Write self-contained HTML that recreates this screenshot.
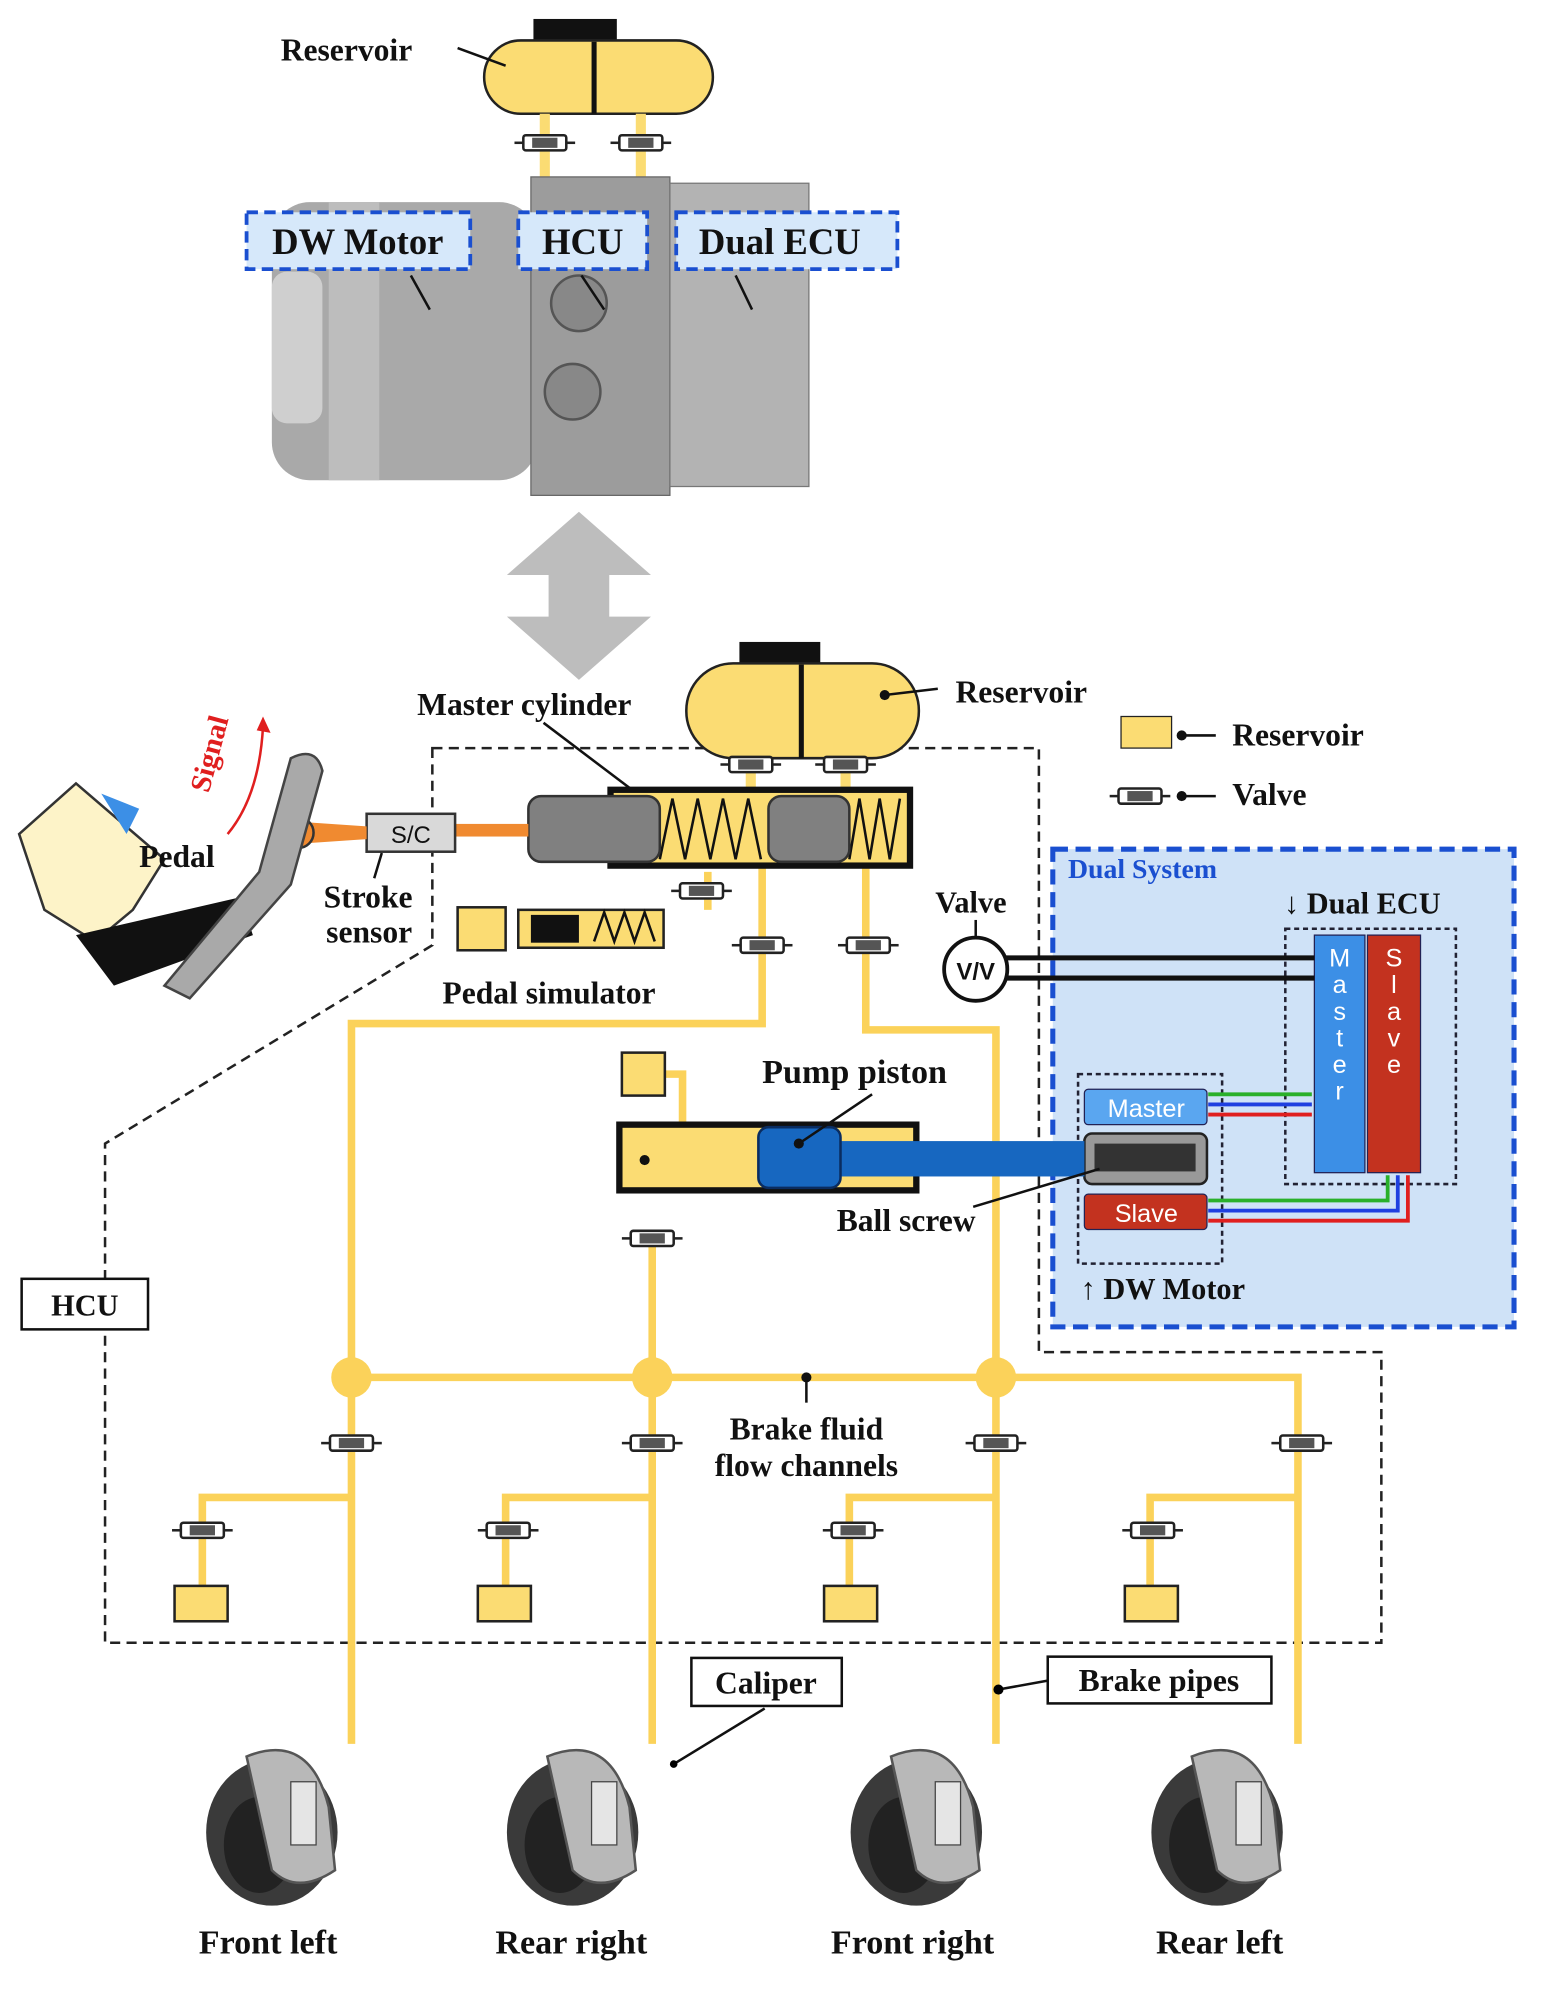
<!DOCTYPE html>
<html><head><meta charset="utf-8"><style>
html,body{margin:0;padding:0;background:#fff}
svg{display:block}
text{font-family:"Liberation Serif",serif;font-weight:bold;fill:#111}
.s{font-family:"Liberation Sans",sans-serif;font-weight:normal}
</style></head><body>
<svg width="1542" height="1989" viewBox="0 0 1220 1574" xmlns="http://www.w3.org/2000/svg">
<defs>
<g id="valve"><rect x="-17" y="-6" width="34" height="12" rx="2" fill="#fff" stroke="#222" stroke-width="2"/><rect x="-10" y="-4" width="20" height="8" fill="#555"/><line x1="-24" y1="0" x2="-17" y2="0" stroke="#222" stroke-width="2"/><line x1="17" y1="0" x2="24" y2="0" stroke="#222" stroke-width="2"/></g>
<g id="wheel"><ellipse cx="0" cy="10" rx="52" ry="58" fill="#3a3a3a"/><ellipse cx="-10" cy="20" rx="28" ry="38" fill="#222"/><path d="M-20,-50 Q30,-70 45,-10 L50,40 Q20,60 0,40 Z" fill="#b8b8b8" stroke="#555" stroke-width="2"/><rect x="15" y="-30" width="20" height="50" fill="#e5e5e5" stroke="#444"/></g>
</defs>
<!-- top device -->
<rect x="422" y="15" width="66" height="18" fill="#111"/>
<rect x="383" y="32" width="181" height="58" rx="29" fill="#fbdc73" stroke="#222" stroke-width="2"/>
<line x1="470" y1="33" x2="470" y2="90" stroke="#111" stroke-width="4"/>
<rect x="427" y="90" width="8" height="52" fill="#fbdc73"/><rect x="503" y="90" width="8" height="52" fill="#fbdc73"/>
<use href="#valve" x="431" y="113"/><use href="#valve" x="507" y="113"/>
<rect x="215" y="160" width="210" height="220" rx="30" fill="#a9a9a9"/>
<rect x="215" y="215" width="40" height="120" rx="12" fill="#cfcfcf"/>
<rect x="260" y="160" width="40" height="220" fill="#bdbdbd"/>
<rect x="420" y="140" width="110" height="252" fill="#9c9c9c" stroke="#666"/>
<circle cx="458" cy="240" r="22" fill="#888" stroke="#555" stroke-width="2"/><circle cx="453" cy="310" r="22" fill="#888" stroke="#555" stroke-width="2"/>
<rect x="530" y="145" width="110" height="240" fill="#b3b3b3" stroke="#777"/>
<rect x="195" y="168" width="177" height="45" fill="#d6e8fa" stroke="#1a4fd0" stroke-width="3" stroke-dasharray="9,5"/>
<text x="283" y="201" font-size="29" text-anchor="middle">DW Motor</text>
<rect x="410" y="168" width="102" height="45" fill="#d6e8fa" stroke="#1a4fd0" stroke-width="3" stroke-dasharray="9,5"/>
<text x="461" y="201" font-size="29" text-anchor="middle">HCU</text>
<rect x="535" y="168" width="175" height="45" fill="#d6e8fa" stroke="#1a4fd0" stroke-width="3" stroke-dasharray="9,5"/>
<text x="617" y="201" font-size="29" text-anchor="middle">Dual ECU</text>
<g stroke="#111" stroke-width="2"><line x1="325" y1="218" x2="340" y2="245"/><line x1="460" y1="218" x2="478" y2="245"/><line x1="582" y1="218" x2="595" y2="245"/><line x1="362" y1="38" x2="400" y2="52"/></g>
<text x="222" y="48" font-size="25">Reservoir</text>
<polygon points="458,405 515,455 482,455 482,488 515,488 458,538 401,488 434,488 434,455 401,455" fill="#bdbdbd"/>
<path d="M342,592 L822,592 L822,1070 L1093,1070 L1093,1300 L83,1300 L83,905 L342,748 Z" fill="none" stroke="#222" stroke-width="2" stroke-dasharray="8,5"/>
<rect x="833" y="672" width="365" height="378" fill="#cfe2f7" stroke="#1a4fd0" stroke-width="4" stroke-dasharray="12,6"/>
<text x="845" y="695" font-size="22" style="fill:#1a4fd0">Dual System</text>
<text x="1016" y="723" font-size="24">↓ Dual ECU</text>
<rect x="1017" y="735" width="135" height="202" fill="none" stroke="#223" stroke-width="2" stroke-dasharray="4,3"/>
<rect x="1040" y="740" width="40" height="188" fill="#3c8fe6" stroke="#225"/>
<rect x="1082" y="740" width="42" height="188" fill="#c3321f" stroke="#225"/>
<text class="s" x="1060" y="765" font-size="20" text-anchor="middle" style="fill:#fff"><tspan x="1060">M</tspan><tspan x="1060" dy="21">a</tspan><tspan x="1060" dy="21">s</tspan><tspan x="1060" dy="21">t</tspan><tspan x="1060" dy="21">e</tspan><tspan x="1060" dy="21">r</tspan></text>
<text class="s" x="1103" y="765" font-size="20" text-anchor="middle" style="fill:#fff"><tspan x="1103">S</tspan><tspan x="1103" dy="21">l</tspan><tspan x="1103" dy="21">a</tspan><tspan x="1103" dy="21">v</tspan><tspan x="1103" dy="21">e</tspan></text>
<rect x="853" y="850" width="114" height="150" fill="none" stroke="#223" stroke-width="2" stroke-dasharray="4,3"/>
<rect x="858" y="862" width="97" height="28" rx="3" fill="#5aa6f0" stroke="#225"/>
<text class="s" x="907" y="884" font-size="20" text-anchor="middle" style="fill:#fff">Master</text>
<rect x="858" y="945" width="97" height="28" rx="3" fill="#c3321f" stroke="#225"/>
<text class="s" x="907" y="967" font-size="20" text-anchor="middle" style="fill:#fff">Slave</text>
<rect x="858" y="897" width="97" height="40" rx="6" fill="#999" stroke="#222" stroke-width="2"/>
<rect x="866" y="905" width="80" height="22" fill="#333"/>
<g fill="none" stroke-width="3">
<path d="M956,866 L1038,866" stroke="#2ab02a"/><path d="M956,874 L1038,874" stroke="#1f3fe0"/><path d="M956,882 L1038,882" stroke="#e01f1f"/>
<path d="M956,950 L1098,950 L1098,930" stroke="#2ab02a"/><path d="M956,958 L1106,958 L1106,930" stroke="#1f3fe0"/><path d="M956,966 L1114,966 L1114,930" stroke="#e01f1f"/>
</g>
<text x="855" y="1028" font-size="24">↑ DW Motor</text>
<line x1="790" y1="758" x2="1040" y2="758" stroke="#111" stroke-width="4"/><line x1="790" y1="774" x2="1040" y2="774" stroke="#111" stroke-width="4"/>
<circle cx="772" cy="767" r="25" fill="#fff" stroke="#111" stroke-width="3"/>
<text class="s" x="772" y="775" font-size="19" text-anchor="middle" style="font-weight:bold">V/V</text>
<text x="740" y="722" font-size="24">Valve</text>
<line x1="772" y1="728" x2="772" y2="742" stroke="#111" stroke-width="2"/>
<rect x="887" y="567" width="40" height="25" fill="#fbdc73" stroke="#222"/>
<circle cx="935" cy="582" r="4" fill="#111"/><line x1="935" y1="582" x2="962" y2="582" stroke="#111" stroke-width="2"/>
<text x="975" y="590" font-size="25">Reservoir</text>
<use href="#valve" x="902" y="630"/><circle cx="935" cy="630" r="4" fill="#111"/><line x1="935" y1="630" x2="962" y2="630" stroke="#111" stroke-width="2"/>
<text x="975" y="637" font-size="25">Valve</text>
<rect x="585" y="508" width="64" height="18" fill="#111"/>
<rect x="543" y="525" width="184" height="75" rx="37" fill="#fbdc73" stroke="#222" stroke-width="2"/>
<line x1="634" y1="526" x2="634" y2="600" stroke="#111" stroke-width="4"/>
<circle cx="700" cy="550" r="4" fill="#111"/><line x1="700" y1="550" x2="742" y2="545" stroke="#111" stroke-width="2"/>
<text x="756" y="556" font-size="25">Reservoir</text>
<g fill="#fbdc73"><rect x="590" y="600" width="8" height="28"/><rect x="665" y="600" width="8" height="28"/></g>
<use href="#valve" x="594" y="605"/><use href="#valve" x="669" y="605"/>
<g fill="none" stroke="#fbd25a" stroke-width="6">
<path d="M603,685 L603,810 L278,810 L278,1380"/>
<path d="M685,685 L685,815 L788,815 L788,1380"/>
<path d="M278,1090 L1027,1090 L1027,1380"/>
<path d="M516,985 L516,1380"/>
<path d="M278,1185 L160,1185 L160,1258"/><path d="M516,1185 L400,1185 L400,1258"/><path d="M788,1185 L672,1185 L672,1258"/><path d="M1027,1185 L910,1185 L910,1258"/>
<path d="M510,850 L540,850 L540,890"/><path d="M560,690 L560,720"/>
</g>
<g fill="#fbd25a"><circle cx="278" cy="1090" r="16"/><circle cx="516" cy="1090" r="16"/><circle cx="788" cy="1090" r="16"/></g>
<g fill="#fbdc73" stroke="#222" stroke-width="2">
<rect x="138" y="1255" width="42" height="28"/><rect x="378" y="1255" width="42" height="28"/><rect x="652" y="1255" width="42" height="28"/><rect x="890" y="1255" width="42" height="28"/>
</g>
<use href="#valve" x="278" y="1142"/><use href="#valve" x="516" y="1142"/><use href="#valve" x="788" y="1142"/><use href="#valve" x="1030" y="1142"/>
<use href="#valve" x="160" y="1211"/><use href="#valve" x="402" y="1211"/><use href="#valve" x="675" y="1211"/><use href="#valve" x="912" y="1211"/>
<use href="#valve" x="603" y="748"/><use href="#valve" x="687" y="748"/><use href="#valve" x="516" y="980"/><use href="#valve" x="555" y="705"/>
<rect x="483" y="625" width="237" height="60" fill="#fbdc73" stroke="#111" stroke-width="5"/>
<path d="M522,680 L532,632 L542,680 L552,632 L562,680 L572,632 L582,680 L592,632 L602,680" fill="none" stroke="#111" stroke-width="2"/>
<path d="M672,680 L680,632 L688,680 L696,632 L704,680 L712,632" fill="none" stroke="#111" stroke-width="2"/>
<rect x="418" y="630" width="104" height="52" rx="10" fill="#808080" stroke="#333" stroke-width="2"/>
<rect x="608" y="630" width="64" height="52" rx="10" fill="#808080" stroke="#333" stroke-width="2"/>
<rect x="360" y="652" width="58" height="10" fill="#f08a30"/>
<rect x="290" y="644" width="70" height="30" fill="#d9d9d9" stroke="#333" stroke-width="2"/>
<text class="s" x="325" y="667" font-size="19" text-anchor="middle">S/C</text>
<path d="M232,650 L290,654 L290,664 L232,668 Z" fill="#f08a30"/>
<circle cx="236" cy="659" r="12" fill="#f08a30" stroke="#333" stroke-width="2"/>
<text x="330" y="566" font-size="25">Master cylinder</text>
<line x1="430" y1="572" x2="500" y2="625" stroke="#111" stroke-width="2"/>
<rect x="362" y="718" width="38" height="34" fill="#fbdc73" stroke="#222" stroke-width="2"/>
<rect x="410" y="720" width="115" height="30" fill="#fbdc73" stroke="#222" stroke-width="2"/>
<rect x="420" y="724" width="38" height="22" fill="#111"/>
<path d="M470,745 L478,722 L486,745 L494,722 L502,745 L510,722 L518,745" fill="none" stroke="#111" stroke-width="2"/>
<text x="350" y="794" font-size="25">Pedal simulator</text>
<text x="256" y="718" font-size="25">Stroke</text><text x="258" y="746" font-size="25">sensor</text>
<line x1="296" y1="695" x2="302" y2="675" stroke="#111" stroke-width="2"/>
<path d="M15,660 L60,620 L130,680 L105,720 L75,745 L35,720 Z" fill="#fdf3c8" stroke="#333" stroke-width="2"/>
<path d="M60,740 L190,710 L200,740 L90,780 Z" fill="#111"/>
<path d="M230,600 Q250,590 255,610 L230,700 L150,790 L130,780 L205,690 Z" fill="#a9a9a9" stroke="#444" stroke-width="2"/>
<polygon points="80,628 110,640 100,660" fill="#3c8fe6"/>
<path d="M180,660 Q205,630 208,575" fill="none" stroke="#e01f1f" stroke-width="2"/>
<polygon points="203,578 208,567 214,580" fill="#e01f1f"/>
<text x="0" y="0" font-size="23" transform="translate(165,628) rotate(-75)" style="fill:#e01f1f">Signal</text>
<text x="110" y="686" font-size="25">Pedal</text>
<rect x="492" y="833" width="34" height="34" fill="#fbdc73" stroke="#222" stroke-width="2"/>
<rect x="490" y="890" width="235" height="52" fill="#fbdc73" stroke="#111" stroke-width="5"/>
<rect x="665" y="903" width="193" height="28" fill="#1767c0"/>
<rect x="600" y="892" width="65" height="48" rx="8" fill="#1767c0" stroke="#0a2c60" stroke-width="2"/>
<circle cx="510" cy="918" r="4" fill="#111"/><circle cx="632" cy="905" r="4" fill="#111"/>
<line x1="632" y1="905" x2="690" y2="866" stroke="#111" stroke-width="2"/>
<text x="603" y="857" font-size="27">Pump piston</text>
<line x1="770" y1="955" x2="870" y2="925" stroke="#111" stroke-width="2"/>
<text x="662" y="974" font-size="25">Ball screw</text>
<rect x="17" y="1012" width="100" height="40" fill="#fff" stroke="#111" stroke-width="2"/>
<text x="67" y="1041" font-size="24" text-anchor="middle">HCU</text>
<circle cx="638" cy="1090" r="4" fill="#111"/><line x1="638" y1="1090" x2="638" y2="1110" stroke="#111" stroke-width="2"/>
<text x="638" y="1139" font-size="25" text-anchor="middle">Brake fluid</text>
<text x="638" y="1168" font-size="25" text-anchor="middle">flow channels</text>
<rect x="547" y="1312" width="119" height="38" fill="#fff" stroke="#111" stroke-width="2"/>
<text x="606" y="1340" font-size="25" text-anchor="middle">Caliper</text>
<line x1="605" y1="1352" x2="533" y2="1396" stroke="#111" stroke-width="2"/><circle cx="533" cy="1396" r="3"/>
<rect x="829" y="1311" width="177" height="37" fill="#fff" stroke="#111" stroke-width="2"/>
<text x="917" y="1338" font-size="25" text-anchor="middle">Brake pipes</text>
<line x1="829" y1="1330" x2="790" y2="1337" stroke="#111" stroke-width="2"/><circle cx="790" cy="1337" r="4"/>
<use href="#wheel" x="215" y="1440"/><use href="#wheel" x="453" y="1440"/><use href="#wheel" x="725" y="1440"/><use href="#wheel" x="963" y="1440"/>
<text x="212" y="1546" font-size="27" text-anchor="middle">Front left</text>
<text x="452" y="1546" font-size="27" text-anchor="middle">Rear right</text>
<text x="722" y="1546" font-size="27" text-anchor="middle">Front right</text>
<text x="965" y="1546" font-size="27" text-anchor="middle">Rear left</text>
</svg>
</body></html>
